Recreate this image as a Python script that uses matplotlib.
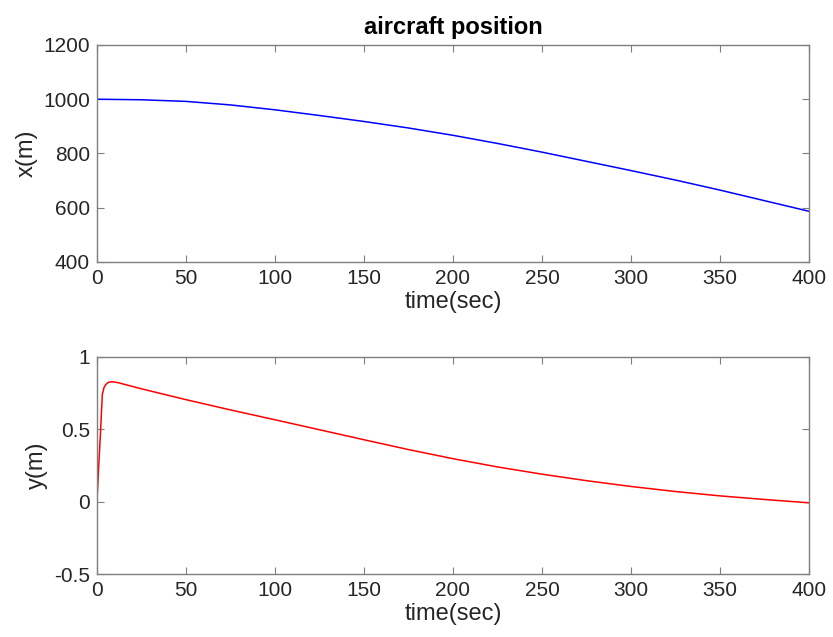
import numpy as np
import matplotlib
matplotlib.use('Agg')
import matplotlib.pyplot as plt

# x position of the aircraft (m)
t_x = [0, 25, 50, 75, 100, 125, 150, 175, 200, 225, 250, 275, 300, 325, 350, 375, 400]
x_pos = [1000, 998, 992, 979, 961, 940, 918, 894, 867, 837, 805, 771, 737, 702, 665, 626, 587]

# y position of the aircraft (m)
t_y = [0, 1, 2, 3, 4, 5, 6.5, 8.5, 12, 25, 50, 75, 100, 125, 150, 175,
       200, 225, 250, 275, 300, 325, 350, 375, 400]
y_pos = [0.0, 0.25, 0.48, 0.74, 0.79, 0.81, 0.825, 0.829, 0.822, 0.78, 0.705,
         0.634, 0.566, 0.497, 0.428, 0.36, 0.297, 0.240, 0.190, 0.145, 0.105,
         0.070, 0.040, 0.015, -0.008]

plt.rcParams['font.family'] = ['Liberation Sans', 'DejaVu Sans']
grey = '#262626'
edge = '#7f7f7f'

fig = plt.figure(figsize=(8.33, 6.37), dpi=100)
ax1 = fig.add_axes([0.1164, 0.5887, 0.8548, 0.3407])
ax2 = fig.add_axes([0.1164, 0.0989, 0.8548, 0.3407])

ax1.plot(t_x, x_pos, color='blue', lw=1.1)
ax1.set_xlim(0, 400)
ax1.set_ylim(400, 1200)
ax1.set_yticks([400, 600, 800, 1000, 1200])
ax1.set_ylabel('x(m)', fontsize=17, color=grey, labelpad=4)
ax1.set_xlabel('time(sec)', fontsize=17, color=grey, labelpad=2)
ax1.set_title('aircraft position', fontsize=17, fontweight='bold', pad=8)

ax2.plot(t_y, y_pos, color='red', lw=1.1)
ax2.set_xlim(0, 400)
ax2.set_ylim(-0.5, 1)
ax2.set_yticks([-0.5, 0, 0.5, 1])
ax2.set_yticklabels(['-0.5', '0', '0.5', '1'])
ax2.set_ylabel('y(m)', fontsize=17, color=grey, labelpad=4)
ax2.set_xlabel('time(sec)', fontsize=17, color=grey, labelpad=2)

for ax in (ax1, ax2):
    ax.set_xticks(np.arange(0, 401, 50))
    ax.tick_params(direction='in', top=True, right=True, length=5,
                   labelsize=15, colors=grey, pad=5)
    ax.tick_params(axis='both', color=edge)
    for s in ax.spines.values():
        s.set_color(edge)
        s.set_linewidth(1.0)

fig.savefig('out.png', dpi=100)
